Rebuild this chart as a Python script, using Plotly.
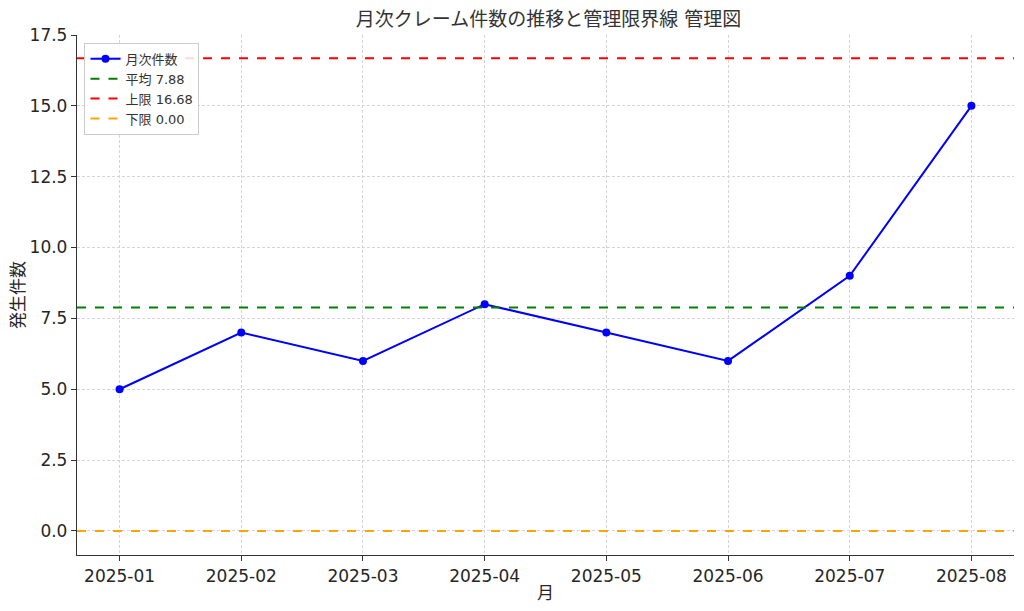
import plotly.graph_objects as go

months = ["2025-01", "2025-02", "2025-03", "2025-04", "2025-05", "2025-06", "2025-07", "2025-08"]
counts = [5, 7, 6, 8, 7, 6, 9, 15]
mean_val = 7.88
ucl_val = 16.68
lcl_val = 0.00

title_text = "月次クレーム件数の推移と管理限界線 管理図"
series_name = "月次件数"
y_title = "発生件数"
x_title = "月"
yticks = [0.0, 2.5, 5.0, 7.5, 10.0, 12.5, 15.0, 17.5]

font = "DejaVu Sans, Noto Sans CJK JP, sans-serif"

fig = go.Figure()
fig.add_trace(go.Scatter(
    x=months, y=counts, mode="lines+markers", name=series_name,
    line=dict(color="#0000ff", width=2), marker=dict(color="#0000ff", size=8)))

for val, label, col in [(mean_val, f"平均 {mean_val:.2f}", "green"),
                        (ucl_val, f"上限 {ucl_val:.2f}", "red"),
                        (lcl_val, f"下限 {lcl_val:.2f}", "orange")]:
    fig.add_trace(go.Scatter(
        x=[-0.35, 7.35], y=[val, val], mode="lines", name=label,
        line=dict(color=col, width=2, dash="dash"), hoverinfo="skip", showlegend=True,
        xaxis="x2"))

# page body has an 8px margin: offset the figure accordingly
fig.update_layout(
    width=1016, height=603,
    margin=dict(l=69, r=10, t=27, b=56, autoexpand=False),
    paper_bgcolor="white", plot_bgcolor="white",
    font=dict(family=font, color="#262626", size=17),
    title=dict(text=title_text, x=0.532, xanchor="center", y=0.982, yanchor="middle",
               font=dict(size=19, color="#333333")),
    showlegend=True,
    legend=dict(x=0.008, y=0.985, xanchor="left", yanchor="top",
                bgcolor="rgba(255,255,255,0.85)", bordercolor="#cccccc", borderwidth=1,
                font=dict(size=13, color="#333333"), itemwidth=30, tracegroupgap=0),
    xaxis=dict(type="category", categoryorder="array", categoryarray=months,
               range=[-0.35, 7.35], showgrid=True, gridcolor="#d5d5d5", griddash="3px,2px",
               gridwidth=0.8, showline=True, linecolor="#333333", linewidth=1.3,
               ticks="outside", ticklen=5, tickcolor="#333333", automargin=False,
               title=dict(text=x_title, standoff=2, font=dict(size=17)), zeroline=False),
    xaxis2=dict(range=[-0.35, 7.35], overlaying="x", visible=False, type="linear"),
    yaxis=dict(range=[-0.85, 17.5], tickvals=yticks, tickformat=".1f",
               showgrid=True, gridcolor="#d5d5d5", griddash="3px,2px", gridwidth=0.8,
               showline=True, linecolor="#333333", linewidth=1.3, automargin=False,
               ticks="outside", ticklen=5, tickcolor="#333333", zeroline=False,
               title=dict(text=y_title, standoff=8, font=dict(size=17))),
)

fig.write_html("out.html")
